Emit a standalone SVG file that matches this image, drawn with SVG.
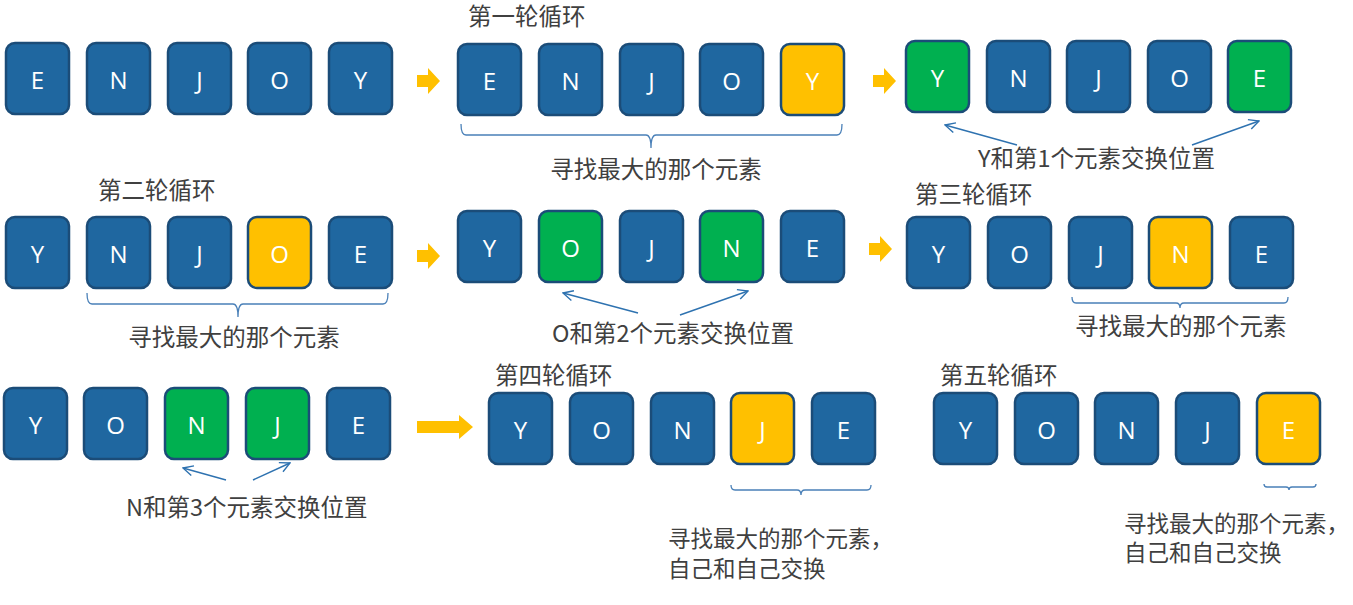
<svg xmlns="http://www.w3.org/2000/svg" width="1353" height="605" viewBox="0 0 1353 605">
  <style>
    .box rect { stroke: #1B4C78; stroke-width: 2.5; }
    .blue rect { fill: #1F67A0; }
    .gold rect { fill: #FFC000; }
    .green rect { fill: #00B050; }
    .box text { font-family: "Open Sans", "Noto Sans", sans-serif; font-size: 24px; fill: #FFFFFF; text-anchor: middle; dominant-baseline: central; }
    .label { font-family: "Noto Sans CJK SC", "Noto Sans", sans-serif; font-size: 23.5px; fill: #404040; }
    .note { font-family: "Noto Sans CJK SC", "Noto Sans", sans-serif; font-size: 22.5px; fill: #404040; }
    .brace { fill: none; stroke: #4A80B8; stroke-width: 1.3; }
    .swap { fill: none; stroke: #2E72B0; stroke-width: 1.4; }
    .step { fill: #FFC000; }
  </style>
  <defs>
    <marker id="open" viewBox="0 0 12 12" refX="11" refY="6" markerWidth="12" markerHeight="12" markerUnits="userSpaceOnUse" orient="auto">
      <path d="M1,1 L11,6 L1,11" fill="none" stroke="#2E72B0" stroke-width="1.4"/>
    </marker>
  </defs>

  <!-- Round 0: initial sequence -->
  <g id="row1-start">
    <g class="box blue" transform="translate(6,43)"><rect width="63" height="71" rx="9"/><text x="31.5" y="36">E</text></g>
    <g class="box blue" transform="translate(87,43)"><rect width="63" height="71" rx="9"/><text x="31.5" y="36">N</text></g>
    <g class="box blue" transform="translate(168,43)"><rect width="63" height="71" rx="9"/><text x="31.5" y="36">J</text></g>
    <g class="box blue" transform="translate(248,43)"><rect width="63" height="71" rx="9"/><text x="31.5" y="36">O</text></g>
    <g class="box blue" transform="translate(329,43)"><rect width="63" height="71" rx="9"/><text x="31.5" y="36">Y</text></g>
  </g>

  <!-- Round 1: find max -->
  <g id="round1-find">
    <text class="label" x="468" y="25">第一轮循环</text>
    <g class="box blue" transform="translate(458,44)"><rect width="63" height="71" rx="9"/><text x="31.5" y="36">E</text></g>
    <g class="box blue" transform="translate(539,44)"><rect width="63" height="71" rx="9"/><text x="31.5" y="36">N</text></g>
    <g class="box blue" transform="translate(620,44)"><rect width="63" height="71" rx="9"/><text x="31.5" y="36">J</text></g>
    <g class="box blue" transform="translate(700,44)"><rect width="63" height="71" rx="9"/><text x="31.5" y="36">O</text></g>
    <g class="box gold" transform="translate(781,44)"><rect width="63" height="71" rx="9"/><text x="31.5" y="36">Y</text></g>
    <path class="brace" d="M461,124 Q461,135 466,135 L646,135 Q651,135 651,148 Q651,135 656,135 L837,135 Q842,135 842,124"/>
    <text class="label" x="656" y="178" text-anchor="middle">寻找最大的那个元素</text>
  </g>

  <!-- Round 1: swap -->
  <g id="round1-swap">
    <g class="box green" transform="translate(906,41)"><rect width="63" height="71" rx="9"/><text x="31.5" y="36">Y</text></g>
    <g class="box blue" transform="translate(987,41)"><rect width="63" height="71" rx="9"/><text x="31.5" y="36">N</text></g>
    <g class="box blue" transform="translate(1067,41)"><rect width="63" height="71" rx="9"/><text x="31.5" y="36">J</text></g>
    <g class="box blue" transform="translate(1148,41)"><rect width="63" height="71" rx="9"/><text x="31.5" y="36">O</text></g>
    <g class="box green" transform="translate(1228,41)"><rect width="63" height="71" rx="9"/><text x="31.5" y="36">E</text></g>
    <text class="label" x="978" y="167">Y和第1个元素交换位置</text>
  </g>

  <!-- Round 2: find max -->
  <g id="round2-find">
    <text class="label" x="98" y="199">第二轮循环</text>
    <g class="box blue" transform="translate(6,217)"><rect width="63" height="71" rx="9"/><text x="31.5" y="36">Y</text></g>
    <g class="box blue" transform="translate(87,217)"><rect width="63" height="71" rx="9"/><text x="31.5" y="36">N</text></g>
    <g class="box blue" transform="translate(168,217)"><rect width="63" height="71" rx="9"/><text x="31.5" y="36">J</text></g>
    <g class="box gold" transform="translate(248,217)"><rect width="63" height="71" rx="9"/><text x="31.5" y="36">O</text></g>
    <g class="box blue" transform="translate(329,217)"><rect width="63" height="71" rx="9"/><text x="31.5" y="36">E</text></g>
    <path class="brace" d="M87,293 Q87,304 92,304 L233,304 Q238,304 238,317 Q238,304 243,304 L383,304 Q388,304 388,293"/>
    <text class="label" x="234" y="346" text-anchor="middle">寻找最大的那个元素</text>
  </g>

  <!-- Round 2: swap -->
  <g id="round2-swap">
    <g class="box blue" transform="translate(458,211)"><rect width="63" height="71" rx="9"/><text x="31.5" y="36">Y</text></g>
    <g class="box green" transform="translate(539,211)"><rect width="63" height="71" rx="9"/><text x="31.5" y="36">O</text></g>
    <g class="box blue" transform="translate(620,211)"><rect width="63" height="71" rx="9"/><text x="31.5" y="36">J</text></g>
    <g class="box green" transform="translate(700,211)"><rect width="63" height="71" rx="9"/><text x="31.5" y="36">N</text></g>
    <g class="box blue" transform="translate(781,211)"><rect width="63" height="71" rx="9"/><text x="31.5" y="36">E</text></g>
    <text class="label" x="552" y="342">O和第2个元素交换位置</text>
  </g>

  <!-- Round 3: find max -->
  <g id="round3-find">
    <text class="label" x="915" y="203">第三轮循环</text>
    <g class="box blue" transform="translate(907,217)"><rect width="63" height="71" rx="9"/><text x="31.5" y="36">Y</text></g>
    <g class="box blue" transform="translate(988,217)"><rect width="63" height="71" rx="9"/><text x="31.5" y="36">O</text></g>
    <g class="box blue" transform="translate(1069,217)"><rect width="63" height="71" rx="9"/><text x="31.5" y="36">J</text></g>
    <g class="box gold" transform="translate(1149,217)"><rect width="63" height="71" rx="9"/><text x="31.5" y="36">N</text></g>
    <g class="box blue" transform="translate(1230,217)"><rect width="63" height="71" rx="9"/><text x="31.5" y="36">E</text></g>
    <path class="brace" d="M1072,297 Q1072,303 1076,303 L1176,303 Q1180,303 1180,308 Q1180,303 1184,303 L1284,303 Q1288,303 1288,297"/>
    <text class="label" x="1075" y="335">寻找最大的那个元素</text>
  </g>

  <!-- Round 3: swap -->
  <g id="round3-swap">
    <g class="box blue" transform="translate(4,388)"><rect width="63" height="71" rx="9"/><text x="31.5" y="36">Y</text></g>
    <g class="box blue" transform="translate(84,388)"><rect width="63" height="71" rx="9"/><text x="31.5" y="36">O</text></g>
    <g class="box green" transform="translate(165,388)"><rect width="63" height="71" rx="9"/><text x="31.5" y="36">N</text></g>
    <g class="box green" transform="translate(246,388)"><rect width="63" height="71" rx="9"/><text x="31.5" y="36">J</text></g>
    <g class="box blue" transform="translate(327,388)"><rect width="63" height="71" rx="9"/><text x="31.5" y="36">E</text></g>
    <text class="label" x="126" y="516">N和第3个元素交换位置</text>
  </g>

  <!-- Round 4 -->
  <g id="round4">
    <text class="label" x="495" y="384">第四轮循环</text>
    <g class="box blue" transform="translate(489,393)"><rect width="63" height="71" rx="9"/><text x="31.5" y="36">Y</text></g>
    <g class="box blue" transform="translate(570,393)"><rect width="63" height="71" rx="9"/><text x="31.5" y="36">O</text></g>
    <g class="box blue" transform="translate(651,393)"><rect width="63" height="71" rx="9"/><text x="31.5" y="36">N</text></g>
    <g class="box gold" transform="translate(731,393)"><rect width="63" height="71" rx="9"/><text x="31.5" y="36">J</text></g>
    <g class="box blue" transform="translate(812,393)"><rect width="63" height="71" rx="9"/><text x="31.5" y="36">E</text></g>
    <path class="brace" d="M731,485 Q731,490 735,490 L797,490 Q801,490 801,495 Q801,490 805,490 L867,490 Q871,490 871,485"/>
    <text class="note"><tspan x="668" y="547">寻找最大的那个元素，</tspan><tspan x="668" y="577">自己和自己交换</tspan></text>
  </g>

  <!-- Round 5 -->
  <g id="round5">
    <text class="label" x="940" y="384">第五轮循环</text>
    <g class="box blue" transform="translate(934,393)"><rect width="63" height="71" rx="9"/><text x="31.5" y="36">Y</text></g>
    <g class="box blue" transform="translate(1015,393)"><rect width="63" height="71" rx="9"/><text x="31.5" y="36">O</text></g>
    <g class="box blue" transform="translate(1095,393)"><rect width="63" height="71" rx="9"/><text x="31.5" y="36">N</text></g>
    <g class="box blue" transform="translate(1176,393)"><rect width="63" height="71" rx="9"/><text x="31.5" y="36">J</text></g>
    <g class="box gold" transform="translate(1257,393)"><rect width="63" height="71" rx="9"/><text x="31.5" y="36">E</text></g>
    <path class="brace" d="M1264,484 Q1264,487 1267,487 L1286,487 Q1289,487 1289,490 Q1289,487 1292,487 L1313,487 Q1316,487 1316,484"/>
    <text class="note"><tspan x="1124" y="532">寻找最大的那个元素，</tspan><tspan x="1124" y="561">自己和自己交换</tspan></text>
  </g>

  <!-- Connectors: step arrows and swap arrows -->
  <g id="connectors">
    <path class="step" transform="translate(417,81)" d="M0,-6 H11 V-13 L23,0 L11,13 V6 H0 Z"/>
    <path class="step" transform="translate(873,81)" d="M0,-6 H11 V-13 L23,0 L11,13 V6 H0 Z"/>
    <path class="step" transform="translate(417,256)" d="M0,-6 H11 V-13 L23,0 L11,13 V6 H0 Z"/>
    <path class="step" transform="translate(869,249)" d="M0,-6 H11 V-13 L23,0 L11,13 V6 H0 Z"/>
    <path class="step" d="M417,421 H459 V415 L473,427 L459,439 V433 H417 Z"/>

    <line class="swap" x1="1017" y1="145" x2="945" y2="125" marker-end="url(#open)"/>
    <line class="swap" x1="1192" y1="145" x2="1259" y2="121" marker-end="url(#open)"/>
    <line class="swap" x1="638" y1="313" x2="563" y2="293" marker-end="url(#open)"/>
    <line class="swap" x1="680" y1="315" x2="748" y2="291" marker-end="url(#open)"/>
    <line class="swap" x1="226" y1="480" x2="183" y2="468" marker-end="url(#open)"/>
    <line class="swap" x1="253" y1="480" x2="290" y2="463" marker-end="url(#open)"/>
  </g>
</svg>
